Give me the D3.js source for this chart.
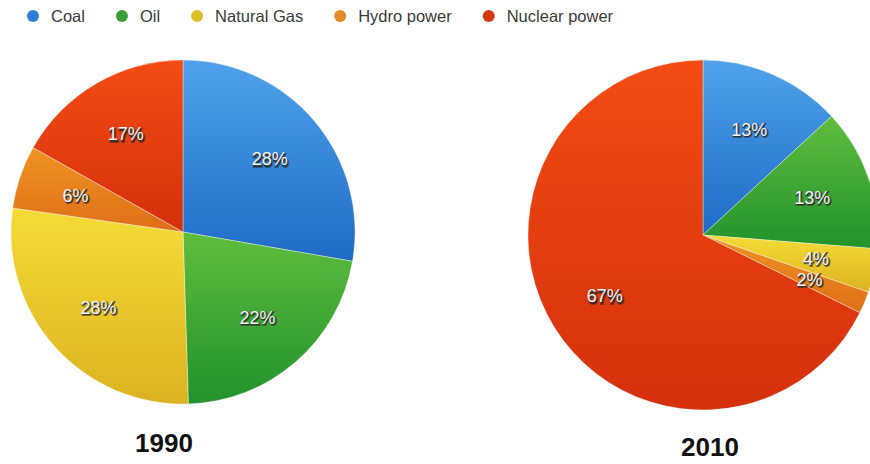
<!DOCTYPE html>
<html><head><meta charset="utf-8">
<script src="https://cdn.jsdelivr.net/npm/d3@7/dist/d3.min.js"></script>
<style>
html,body{margin:0;padding:0;background:#fff;overflow:hidden}
svg{display:block}
</style></head>
<body>
<svg id="chart" width="870" height="464"></svg>
<script>
const categories = ["Coal", "Oil", "Natural Gas", "Hydro power", "Nuclear power"];
const values1990 = [28, 22, 28, 6, 17];
const values2010 = [13, 13, 4, 2, 67];
const years = ["1990", "2010"];
const colorsTop = ["#4fa2ea", "#5fbd3e", "#f4dc36", "#f09422", "#f44c14"];
const colorsBottom = ["#1e6bc6", "#22922c", "#dcb222", "#de6e18", "#d4300c"];
const legendColors = ["#2b80d6", "#3a9f3a", "#d6c224", "#e2892a", "#d43a12"];

const svg = d3.select("#chart");
const defs = svg.append("defs");
categories.forEach((c, i) => {
  const g = defs.append("linearGradient").attr("id", "grad" + i)
    .attr("x1", 0).attr("y1", 0).attr("x2", 0).attr("y2", 1);
  g.append("stop").attr("offset", "0%").attr("stop-color", colorsTop[i]);
  g.append("stop").attr("offset", "100%").attr("stop-color", colorsBottom[i]);
});

const pie = d3.pie().sort(null).value(d => d);
const pies = [
  {values: values1990, cx: 183, cy: 232, r: 172, title: years[0], tx: 164, ty: 452},
  {values: values2010, cx: 703, cy: 235, r: 175, title: years[1], tx: 710, ty: 456}
];

pies.forEach(p => {
  const g = svg.append("g").attr("transform", `translate(${p.cx},${p.cy})`);
  const arc = d3.arc().innerRadius(0).outerRadius(p.r);
  const labelArc = d3.arc().innerRadius(p.r * 0.66).outerRadius(p.r * 0.66);
  const arcs = pie(p.values);
  g.selectAll("path").data(arcs).enter().append("path")
    .attr("d", arc)
    .attr("fill", (d, i) => `url(#grad${i})`)
    .attr("stroke", "rgba(255,255,255,0.45)")
    .attr("stroke-width", 0.8);
  const labels = g.selectAll("g.lab").data(arcs).enter().append("g").attr("class", "lab")
    .attr("transform", d => `translate(${labelArc.centroid(d)})`);
  labels.append("text")
    .attr("text-anchor", "middle").attr("dy", "0.36em")
    .attr("x", 1).attr("y", 1.2)
    .attr("font-family", "Liberation Sans, Arial, sans-serif")
    .attr("font-size", 18)
    .attr("fill", "rgba(40,40,40,0.75)")
    .attr("stroke", "rgba(40,40,40,0.55)").attr("stroke-width", 2)
    .text(d => d.data + "%");
  labels.append("text")
    .attr("text-anchor", "middle").attr("dy", "0.36em")
    .attr("font-family", "Liberation Sans, Arial, sans-serif")
    .attr("font-size", 18)
    .attr("fill", "#f4f4f4")
    .text(d => d.data + "%");
  svg.append("text")
    .attr("x", p.tx).attr("y", p.ty)
    .attr("text-anchor", "middle")
    .attr("font-family", "Liberation Sans, Arial, sans-serif")
    .attr("font-weight", "bold")
    .attr("font-size", 26)
    .attr("fill", "#111")
    .text(p.title);
});

// legend
const legend = svg.append("g").attr("transform", "translate(0,16)");
let x = 33;
categories.forEach((c, i) => {
  const item = legend.append("g").attr("transform", `translate(${x},0)`);
  item.append("circle").attr("cx", 0).attr("cy", 0).attr("r", 6).attr("fill", legendColors[i]);
  const t = item.append("text").attr("x", 18).attr("y", 0).attr("dy", "0.35em")
    .attr("font-family", "Liberation Sans, Arial, sans-serif")
    .attr("font-size", 16.5).attr("fill", "#3a3a3a").text(c);
  const w = t.node().getComputedTextLength();
  x += 18 + w + 37;
});
</script>
</body></html>
